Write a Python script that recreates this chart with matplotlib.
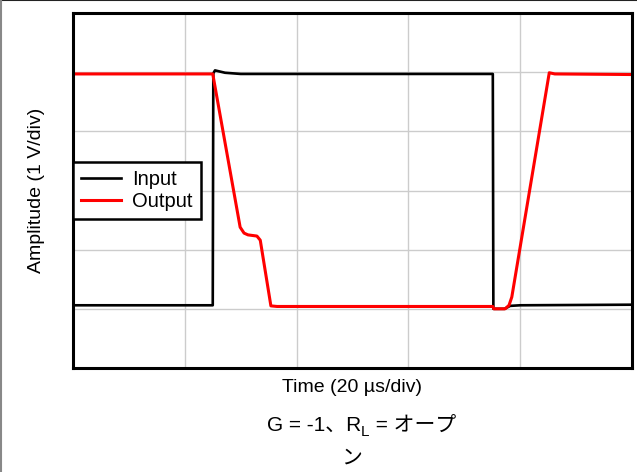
import matplotlib
matplotlib.use("Agg")
import matplotlib.pyplot as plt
from matplotlib.lines import Line2D

plt.rcParams['font.family'] = ['Liberation Sans', 'Noto Sans CJK JP', 'DejaVu Sans']

# time in us, amplitude in V (20 us/div, 1 V/div)
t_in = [0, 25.0, 25.1, 25.4, 27.2, 30, 35, 75.1, 75.2, 77.2, 78.2, 80, 100]
v_in = [-1.94, -1.94, 1.98, 2.03, 1.99, 1.97, 1.97, 1.97, -2.0, -2.0, -1.95, -1.94, -1.93]

t_out = [0, 25.0, 29.9, 30.6, 31.3, 32.9, 33.5, 35.4, 36.5, 75.1, 75.3, 77.3, 78.0, 78.5, 85.2, 86.2, 100]
v_out = [1.97, 1.97, -0.62, -0.72, -0.75, -0.77, -0.84, -1.95, -1.96, -1.96, -2.0, -2.0, -1.94, -1.8, 1.99, 1.97, 1.96]

fig = plt.figure(figsize=(6.37, 4.72), dpi=100)
ax = fig.add_axes([73/637, 104/472, 559/637, 355/472])

ax.plot(t_in, v_in, color='black', lw=1.9, label='Input')
ax.plot(t_out, v_out, color='#ff0000', lw=2.2, label='Output')

ax.set_xlim(0, 100)
ax.set_ylim(-3, 3)
ax.set_xticks([20, 40, 60, 80])
ax.set_yticks([-2, -1, 0, 1, 2])
ax.tick_params(length=0, labelbottom=False, labelleft=False)
ax.grid(True, color='#cccccc', lw=1)
for s in ax.spines.values():
    s.set_linewidth(2.2)
    s.set_color('black')

ax.set_xlabel("Time (20 µs/div)", fontsize=14, labelpad=8)
ax.set_ylabel("Amplitude (1 V/div)", fontsize=14, labelpad=20)

leg = ax.legend(loc='center left', bbox_to_anchor=(0, 0.5), borderaxespad=0,
                fontsize=14.5, fancybox=False, framealpha=1, handlelength=2.0,
                handletextpad=0.55, borderpad=0.4, labelspacing=0.15)
leg.get_frame().set_edgecolor('black')
leg.get_frame().set_linewidth(1.8)

# subtitle in pieces so the CJK fallback keeps working (mathtext would break it)
t1 = fig.text(267/637, 1 - 425/472, "G = -1、R", ha='left', va='center', fontsize=15)
t2 = ax.annotate("L", xy=(1, 0), xycoords=t1, xytext=(0, -3), textcoords='offset points',
                 ha='left', va='bottom', fontsize=11, annotation_clip=False)
t3 = ax.annotate(" = オープ", xy=(1, 0), xycoords=t2, xytext=(0, 3), textcoords='offset points',
                 ha='left', va='bottom', fontsize=15, annotation_clip=False)
fig.text(352/637, 1 - 458/472, "ン", ha='center', va='center', fontsize=15)

# outer image border
fig.add_artist(Line2D([0, 1], [0.999, 0.999], transform=fig.transFigure, color='#222222', lw=1.5))
fig.add_artist(Line2D([0.001, 0.001], [0, 1], transform=fig.transFigure, color='#888888', lw=1.5))

fig.savefig("out.png", dpi=100)
